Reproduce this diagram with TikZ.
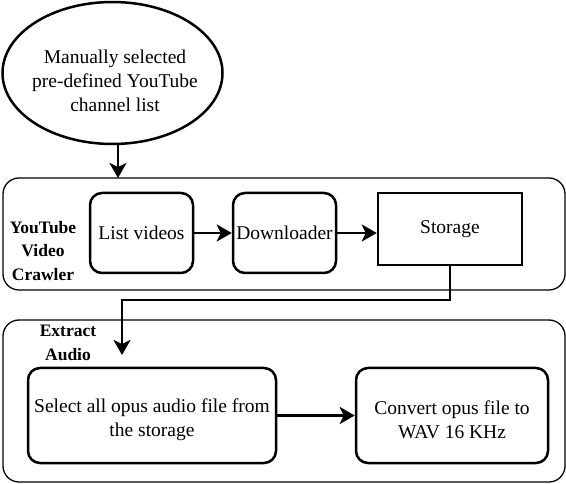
\documentclass[tikz,border=0pt]{standalone}
\usepackage{fontspec}
\setmainfont{Liberation Serif}
\usetikzlibrary{arrows.meta,positioning,shapes.geometric}

\tikzset{
  stepnode/.style={draw,line width=2.5pt,rounded corners=12pt,align=center,inner sep=1pt},
  frame/.style={draw,line width=1.3pt,rounded corners=16pt},
  boxtext/.style={align=center,inner sep=0pt},
  grouplabel/.style={font=\fontsize{17.5}{23.5}\selectfont\bfseries,align=center},
  flow/.style={->,line width=2.7pt}
}

\begin{document}
\begin{tikzpicture}[x=1pt,y=-1pt,>={Stealth[length=15pt,width=17pt,inset=4pt]},font=\fontsize{19.5}{24}\selectfont]
\useasboundingbox (0,0) rectangle (566,484);

% ---- sorgente ----
\node[ellipse,draw,line width=2.5pt,minimum width=220,minimum height=142] (src) at (112.5,73) {};
\node[boxtext] (srctext) at (115,81) {Manually selected\\pre-defined YouTube\\channel list};

% ---- crawler ----
\node[frame,minimum width=562,minimum height=112] (crawler) at (284,234) {};
\node[grouplabel] (crawlerlab) at (43,251) {YouTube\\Video\\Crawler};
\node[stepnode,minimum width=103,minimum height=80] (list) at (141.5,233) {List videos};
\node[stepnode,minimum width=103,minimum height=80] (down) at (284.5,233) {Downloader};
\node[draw,line width=2.5pt,minimum width=144,minimum height=72] (store) at (450,229) {Storage};

% ---- estrazione audio ----
\node[frame,minimum width=562,minimum height=162] (extract) at (284,401) {};
\node[grouplabel] (extractlab) at (68,343) {Extract\\Audio};
\node[stepnode,minimum width=248,minimum height=95] (select) at (152,415.5) {};
\node[boxtext] (selecttext) at (152,420) {Select all opus audio file from\\the storage};
\node[stepnode,minimum width=192,minimum height=95] (conv) at (452,415.5) {};
\node[boxtext] (convtext) at (452,420) {Convert opus file to\\WAV 16 KHz};

% ---- frecce ----
\coordinate (in1) at (118,178);
\coordinate (in2) at (122,355);
\draw[flow] (in1 |- src.south) -- (in1);
\draw[flow] (list.east) -- (down.west);
\draw[flow] (down.east) -- (down.east -| store.west);
\draw[flow] (store.south) -- (store.south |- 0,300) -| (in2);
\draw[flow] (select.east) -- (conv.west);

\end{tikzpicture}
\end{document}
